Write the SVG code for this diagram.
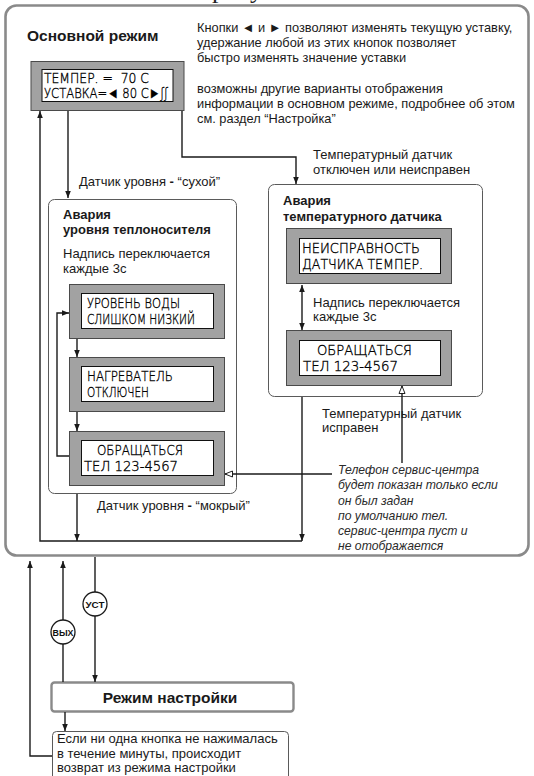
<svg xmlns="http://www.w3.org/2000/svg" width="534" height="776" viewBox="0 0 534 776">
  <defs>
    <style>
      .t { font-family: "Liberation Sans", Arial, sans-serif; font-size: 13px; fill: #1a1a1a; }
      .b { font-weight: bold; }
      .it { font-style: italic; fill: #2a2a2a; font-size: 12.2px; }
      .note { font-size: 12.8px; }
      .lcd { font-family: "DejaVu Sans", "Liberation Sans", sans-serif; font-weight: 200; font-stretch: condensed; font-size: 14.5px; fill: #000; stroke: #000; stroke-width: 0.35; white-space: pre; }
      .panel { fill: #a2a2a2; stroke: #4a4a4a; stroke-width: 1; }
      .screen { fill: #fff; stroke: #111; stroke-width: 1; }
      .box { fill: #fff; stroke: #5a5a5a; stroke-width: 1; }
      .frame { fill: none; stroke: #8a8a8a; stroke-width: 2.6; }
      .ln { fill: none; stroke: #1a1a1a; stroke-width: 1.4; }
      .btn { fill: #fff; stroke: #1a1a1a; stroke-width: 1.3; }
      .bt { font-family: "Liberation Sans", Arial, sans-serif; font-size: 9px; font-weight: bold; fill: #111; }
    </style>
    <marker id="ah" viewBox="0 0 10 10" refX="10" refY="5" markerWidth="7" markerHeight="7" markerUnits="userSpaceOnUse" orient="auto-start-reverse">
      <path d="M0,1 L10,5 L0,9 Z" fill="#1a1a1a"/>
    </marker>
    <marker id="ho" viewBox="-1 -1 12 12" refX="10" refY="5" markerWidth="9" markerHeight="9" markerUnits="userSpaceOnUse" orient="auto">
      <path d="M0,1 L10,5 L0,9 Z" fill="#fff" stroke="#1a1a1a" stroke-width="1.3"/>
    </marker>
  </defs>

  <rect width="534" height="776" fill="#fff"/>

  <!-- heading fragment above the frame -->
  <text x="212" y="-2" style="font-family:'Liberation Serif',serif;font-size:26px;fill:#222">р</text>
  <text x="250" y="-2" style="font-family:'Liberation Serif',serif;font-size:26px;fill:#222">у</text>

  <!-- main mode frame -->
  <g id="main-mode">
    <rect class="frame" x="5.5" y="5.5" width="523" height="550" rx="11"/>
    <text class="t b" x="27" y="41" style="font-size:15.5px">Основной режим</text>
    <text class="t note" x="197" y="32">Кнопки ◄ и ► позволяют изменять текущую уставку,</text>
    <text class="t note" x="197" y="47">удержание любой из этих кнопок позволяет</text>
    <text class="t note" x="197" y="62">быстро изменять значение уставки</text>
    <text class="t note" x="197" y="93">возможны другие варианты отображения</text>
    <text class="t note" x="197" y="108">информации в основном режиме, подробнее об этом</text>
    <text class="t note" x="197" y="123">см. раздел “Настройка”</text>
    <g id="main-lcd">
      <rect class="panel" x="31" y="61.5" width="153" height="49"/>
      <rect class="screen" x="42" y="69.5" width="131" height="32"/>
      <text class="lcd" x="44" y="83" textLength="105" lengthAdjust="spacingAndGlyphs">ТЕМПЕР. =  70 С</text>
      <text class="lcd" x="44" y="98" textLength="124" lengthAdjust="spacingAndGlyphs">УСТАВКА=◄ 80 С►ʃʃ</text>
    </g>
  </g>

  <!-- coolant level alarm -->
  <g id="level-alarm">
    <rect class="box" x="48.5" y="199.5" width="188" height="294" rx="6"/>
    <text class="t b" x="63" y="219">Авария</text>
    <text class="t b" x="63" y="234">уровня теплоносителя</text>
    <text class="t" x="63" y="258">Надпись переключается</text>
    <text class="t" x="63" y="273">каждые 3с</text>
    <g id="lcd-low-water">
      <rect class="panel" x="69.5" y="284.5" width="155" height="54"/>
      <rect class="screen" x="81.5" y="293.5" width="132" height="35"/>
      <text class="lcd" x="87" y="308" textLength="93" lengthAdjust="spacingAndGlyphs">УРОВЕНЬ ВОДЫ</text>
      <text class="lcd" x="87" y="324" textLength="108" lengthAdjust="spacingAndGlyphs">СЛИШКОМ НИЗКИЙ</text>
    </g>
    <g id="lcd-heater-off">
      <rect class="panel" x="69.5" y="357.5" width="155" height="54"/>
      <rect class="screen" x="81.5" y="366.5" width="132" height="35"/>
      <text class="lcd" x="87" y="381" textLength="86" lengthAdjust="spacingAndGlyphs">НАГРЕВАТЕЛЬ</text>
      <text class="lcd" x="87" y="397" textLength="62" lengthAdjust="spacingAndGlyphs">ОТКЛЮЧЕН</text>
    </g>
    <g id="lcd-service-1">
      <rect class="panel" x="69.5" y="431.5" width="155" height="54"/>
      <rect class="screen" x="81.5" y="440.5" width="132" height="35"/>
      <text class="lcd" x="97" y="455" textLength="86" lengthAdjust="spacingAndGlyphs">ОБРАЩАТЬСЯ</text>
      <text class="lcd" x="84" y="471" textLength="94" lengthAdjust="spacingAndGlyphs">ТЕЛ 123-4567</text>
    </g>
  </g>

  <!-- temperature sensor alarm -->
  <g id="sensor-alarm">
    <rect class="box" x="268.5" y="184.5" width="214" height="212" rx="6"/>
    <text class="t b" x="283" y="205">Авария</text>
    <text class="t b" x="283" y="221">температурного датчика</text>
    <g id="lcd-sensor-fault">
      <rect class="panel" x="286.5" y="228.5" width="165" height="55"/>
      <rect class="screen" x="299.5" y="238.5" width="141" height="35"/>
      <text class="lcd" x="302" y="253" textLength="118" lengthAdjust="spacingAndGlyphs">НЕИСПРАВНОСТЬ</text>
      <text class="lcd" x="302" y="269" textLength="121" lengthAdjust="spacingAndGlyphs">ДАТЧИКА ТЕМПЕР.</text>
    </g>
    <text class="t" x="313" y="307">Надпись переключается</text>
    <text class="t" x="313" y="321">каждые 3с</text>
    <g id="lcd-service-2">
      <rect class="panel" x="286.5" y="330.5" width="165" height="55"/>
      <rect class="screen" x="299.5" y="340.5" width="141" height="35"/>
      <text class="lcd" x="317" y="355" textLength="95" lengthAdjust="spacingAndGlyphs">ОБРАЩАТЬСЯ</text>
      <text class="lcd" x="303" y="371" textLength="95" lengthAdjust="spacingAndGlyphs">ТЕЛ 123-4567</text>
    </g>
  </g>

  <!-- transition labels -->
  <g id="labels">
    <text class="t" x="79" y="186">Датчик уровня <tspan class="b">-</tspan> “сухой”</text>
    <text class="t" x="97" y="510">Датчик уровня <tspan class="b">-</tspan> “мокрый”</text>
    <text class="t" x="313" y="159">Температурный датчик</text>
    <text class="t" x="313" y="174">отключен или неисправен</text>
    <text class="t" x="322" y="418">Температурный датчик</text>
    <text class="t" x="322" y="432">исправен</text>
  </g>

  <g id="phone-note">
    <text class="t it" x="338" y="474">Телефон сервис-центра</text>
    <text class="t it" x="338" y="489">будет показан только если</text>
    <text class="t it" x="338" y="505">он был задан</text>
    <text class="t it" x="338" y="520">по умолчанию тел.</text>
    <text class="t it" x="338" y="535">сервис-центра пуст и</text>
    <text class="t it" x="338" y="550">не отображается</text>
  </g>

  <!-- setup mode and buttons -->
  <g id="btn-ust">
    <circle class="btn" cx="95" cy="604" r="12"/>
    <text class="bt" x="95" y="607.5" text-anchor="middle" textLength="19" lengthAdjust="spacingAndGlyphs">УСТ</text>
  </g>
  <g id="btn-vyh">
    <circle class="btn" cx="63" cy="632" r="12"/>
    <text class="bt" x="63" y="635.5" text-anchor="middle" textLength="21" lengthAdjust="spacingAndGlyphs">ВЫХ</text>
  </g>
  <g id="setup-mode">
    <rect x="51.5" y="682.5" width="242" height="29" rx="3" fill="#fff" stroke="#8a8a8a" stroke-width="2.4"/>
    <text class="t b" x="170" y="702.5" text-anchor="middle" style="font-size:15.5px">Режим настройки</text>
  </g>
  <g id="timeout-note">
    <rect class="box" x="52.5" y="731.5" width="236" height="60" rx="4" stroke="#8a8a8a"/>
    <text class="t" x="57" y="743">Если ни одна кнопка не нажималась</text>
    <text class="t" x="57" y="757.5">в течение минуты, происходит</text>
    <text class="t" x="57" y="772">возврат из режима настройки</text>
  </g>

  <!-- connectors -->
  <g id="connectors">
    <path class="ln" d="M302,541 H40 V111" marker-end="url(#ah)"/>
    <path class="ln" d="M68,111 V198" marker-end="url(#ah)"/>
    <path class="ln" d="M182,111 V157 H296 V184" marker-end="url(#ah)"/>
    <path class="ln" d="M77,339 V357" marker-end="url(#ah)"/>
    <path class="ln" d="M77,412 V431" marker-end="url(#ah)"/>
    <path class="ln" d="M69,456 H57 V313 H69" marker-end="url(#ah)"/>
    <path class="ln" d="M77,494 V541" marker-end="url(#ah)"/>
    <path class="ln" d="M302,285 V330" marker-start="url(#ah)" marker-end="url(#ah)"/>
    <path class="ln" d="M302,397 V541" marker-end="url(#ah)"/>
    <path class="ln" d="M332,474 H225" marker-end="url(#ho)"/>
    <path class="ln" d="M402,463 V386" marker-end="url(#ho)"/>
    <path class="ln" d="M52,756 H30 V561" marker-end="url(#ah)"/>
    <path class="ln" d="M63,620 V561" marker-end="url(#ah)"/>
    <path class="ln" d="M63,644 V682"/>
    <path class="ln" d="M95,557 V592"/>
    <path class="ln" d="M95,616 V682" marker-end="url(#ah)"/>
    <path class="ln" d="M65,712 V731" marker-end="url(#ah)"/>
  </g>
</svg>
